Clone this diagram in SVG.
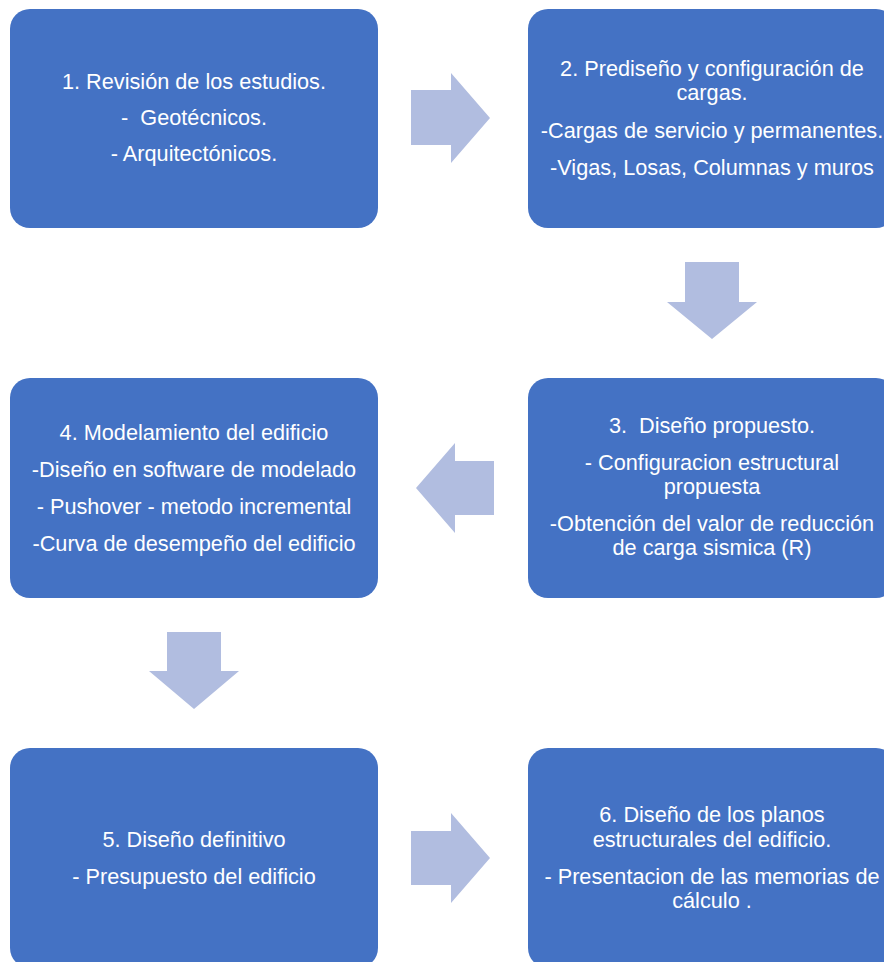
<svg xmlns="http://www.w3.org/2000/svg" width="884" height="962" viewBox="0 0 884 962">
<style>
.box{fill:#4472C4;}
.arr{fill:#B1BDE0;}
text{font-family:"Liberation Sans",Arial,sans-serif;font-size:21.7px;fill:#FFFFFF;text-anchor:middle;white-space:pre;}
</style>
<rect width="884" height="962" fill="#FFFFFF"/>
<g id="connectors">
<polygon class="arr" points="411,90 451,90 451,73 490,118 451,163 451,145 411,145"/>
<polygon class="arr" points="685,262 739,262 739,302 757,302 712,339 667,302 685,302"/>
<polygon class="arr" points="494,461 455,461 455,443 416,488 455,533 455,515 494,515"/>
<polygon class="arr" points="167,632 221,632 221,671 239,671 194,709 149,671 167,671"/>
<polygon class="arr" points="411,831 451,831 451,813 490,858 451,903 451,885 411,885"/>
</g>
<g id="node1">
<rect class="box" x="10" y="9" width="368" height="219" rx="20"/>
<text x="194" y="89">1. Revisión de los estudios.</text>
<text x="194" y="125" xml:space="preserve">-  Geotécnicos.</text>
<text x="194" y="161">- Arquitectónicos.</text>
</g>
<g id="node2">
<rect class="box" x="528" y="9" width="368" height="219" rx="20"/>
<text x="712" y="76">2. Prediseño y configuración de</text>
<text x="712" y="100">cargas.</text>
<text x="712" y="138">-Cargas de servicio y permanentes.</text>
<text x="712" y="175">-Vigas, Losas, Columnas y muros</text>
</g>
<g id="node3">
<rect class="box" x="528" y="378" width="368" height="220" rx="20"/>
<text x="712" y="433" xml:space="preserve">3.  Diseño propuesto.</text>
<text x="712" y="470">- Configuracion estructural</text>
<text x="712" y="494">propuesta</text>
<text x="712" y="531">-Obtención del valor de reducción</text>
<text x="712" y="555">de carga sismica (R)</text>
</g>
<g id="node4">
<rect class="box" x="10" y="378" width="368" height="220" rx="20"/>
<text x="194" y="440">4. Modelamiento del edificio</text>
<text x="194" y="477">-Diseño en software de modelado</text>
<text x="194" y="514">- Pushover - metodo incremental</text>
<text x="194" y="551">-Curva de desempeño del edificio</text>
</g>
<g id="node5">
<rect class="box" x="10" y="748" width="368" height="220" rx="20"/>
<text x="194" y="847">5. Diseño definitivo</text>
<text x="194" y="884">- Presupuesto del edificio</text>
</g>
<g id="node6">
<rect class="box" x="528" y="748" width="368" height="220" rx="20"/>
<text x="712" y="822">6. Diseño de los planos</text>
<text x="712" y="847">estructurales del edificio.</text>
<text x="712" y="884">- Presentacion de las memorias de</text>
<text x="712" y="908">cálculo .</text>
</g>
</svg>
